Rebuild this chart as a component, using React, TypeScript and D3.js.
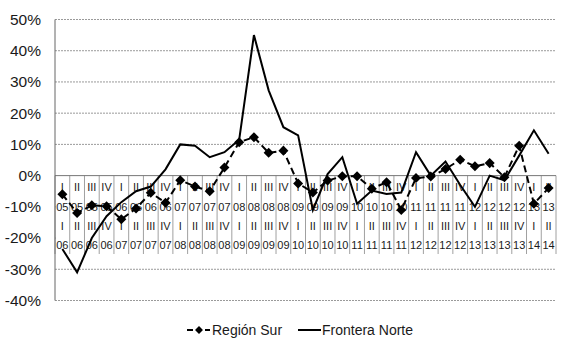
import { useEffect, useRef } from 'react';
import * as d3 from 'd3';

// quarter labels (top pair: quarter / year, bottom pair: quarter / following year)
const quarters = ['I', 'II', 'III', 'IV', 'I', 'II', 'III', 'IV', 'I', 'II', 'III', 'IV', 'I', 'II', 'III', 'IV',
    'I', 'II', 'III', 'IV', 'I', 'II', 'III', 'IV', 'I', 'II', 'III', 'IV', 'I', 'II', 'III', 'IV', 'I', 'II'];
const fromYears = ['05', '05', '05', '05', '06', '06', '06', '06', '07', '07', '07', '07', '08', '08', '08', '08',
    '09', '09', '09', '09', '10', '10', '10', '10', '11', '11', '11', '11', '12', '12', '12', '12', '13', '13'];
const toYears = ['06', '06', '06', '06', '07', '07', '07', '07', '08', '08', '08', '08', '09', '09', '09', '09',
    '10', '10', '10', '10', '11', '11', '11', '11', '12', '12', '12', '12', '13', '13', '13', '13', '14', '14'];

const regionSur = [-6, -12, -9.5, -9.8, -14, -10.5, -5.5, -8.7, -1.5, -3.5, -5, 2.6, 10.7, 12.3, 7.3, 8,
    -2.5, -5.4, -1.6, -0.2, -0.2, -4.2, -2.1, -11, -0.8, -0.3, 2.1, 5.1, 3, 4, -0.5, 9.6, -9, -4];
const fronteraNorte = [-23.5, -31, -20, -13, -8.5, -5, -3.5, 2, 10, 9.6, 5.9, 7.5, 11.5, 45, 27.3, 15.5,
    12.9, -11, 0.5, 5.9, -9, -4.8, -5.9, -5.4, 7.5, 0, 4.5, -3, -10, 0, -1.5, 6.4, 14.5, 7];

const yTicks = [-40, -30, -20, -10, 0, 10, 20, 30, 40, 50];

const FONT = '"Liberation Sans", Arial, sans-serif';

export default function App() {
    const ref = useRef<SVGSVGElement>(null);

    useEffect(() => {
        const svg = d3.select(ref.current);
        svg.selectAll('*').remove();

        const left = 55, right = 556, top = 19.5, bottom = 300.5;

        const x = d3.scaleBand<number>()
            .domain(d3.range(quarters.length))
            .range([left, right]);
        const y = d3.scaleLinear().domain([-40, 50]).range([bottom, top]);
        const cx = (i: number) => (x(i) as number) + x.bandwidth() / 2;

        // gridlines
        svg.append('g')
            .selectAll('line')
            .data(yTicks.filter(d => d !== 0))
            .join('line')
            .attr('x1', left).attr('x2', right)
            .attr('y1', d => y(d)).attr('y2', d => y(d))
            .attr('stroke', '#9a9a9a')
            .attr('stroke-width', 1)
            .attr('stroke-dasharray', '2,1');

        // category label area covers gridlines
        const labelTop = y(0), labelBottom = 254;
        svg.append('rect')
            .attr('x', left + 1).attr('y', labelTop)
            .attr('width', right - left).attr('height', labelBottom - labelTop)
            .attr('fill', '#fff');

        // separators
        svg.append('g')
            .selectAll('line')
            .data(d3.range(quarters.length + 1))
            .join('line')
            .attr('x1', i => left + i * x.bandwidth())
            .attr('x2', i => left + i * x.bandwidth())
            .attr('y1', labelTop).attr('y2', labelBottom)
            .attr('stroke', '#a0a0a0')
            .attr('stroke-width', 1);

        // zero line and y axis
        svg.append('line')
            .attr('x1', left).attr('x2', right)
            .attr('y1', y(0)).attr('y2', y(0))
            .attr('stroke', '#777').attr('stroke-width', 1);
        svg.append('line')
            .attr('x1', left).attr('x2', left)
            .attr('y1', top).attr('y2', bottom)
            .attr('stroke', '#666').attr('stroke-width', 1);

        // y tick labels
        svg.append('g')
            .selectAll('text')
            .data(yTicks)
            .join('text')
            .attr('x', 41)
            .attr('y', d => y(d))
            .attr('dy', '0.35em')
            .attr('text-anchor', 'end')
            .attr('font-family', FONT)
            .attr('font-size', 15.5)
            .attr('fill', '#1a1a1a')
            .text(d => `${d}%`);

        // category labels
        const rows: [string[], number][] = [[quarters, 187], [fromYears, 207], [quarters, 226], [toYears, 245]];
        rows.forEach(([labels, ry]) => {
            svg.append('g')
                .selectAll('text')
                .data(labels)
                .join('text')
                .attr('x', (d, i) => cx(i))
                .attr('y', ry)
                .attr('dy', '0.35em')
                .attr('text-anchor', 'middle')
                .attr('font-family', FONT)
                .attr('font-size', 11)
                .attr('fill', '#1a1a1a')
                .text(d => d);
        });

        const line = d3.line<number>()
            .x((d, i) => cx(i))
            .y(d => y(d));

        svg.append('path')
            .datum(fronteraNorte)
            .attr('d', line)
            .attr('fill', 'none')
            .attr('stroke', '#000')
            .attr('stroke-width', 2);

        svg.append('path')
            .datum(regionSur)
            .attr('d', line)
            .attr('fill', 'none')
            .attr('stroke', '#000')
            .attr('stroke-width', 2)
            .attr('stroke-dasharray', '7,4');

        const diamond = d3.symbol().type(d3.symbolDiamond2).size(64);
        svg.append('g')
            .selectAll('path')
            .data(regionSur)
            .join('path')
            .attr('d', diamond)
            .attr('transform', (d, i) => `translate(${cx(i)},${y(d)})`)
            .attr('fill', '#000');

        // legend
        const ly = 330;
        const lg = svg.append('g');
        lg.append('line')
            .attr('x1', 187).attr('x2', 210).attr('y1', ly).attr('y2', ly)
            .attr('stroke', '#000').attr('stroke-width', 2).attr('stroke-dasharray', '6,3');
        lg.append('path')
            .attr('d', d3.symbol().type(d3.symbolDiamond2).size(40))
            .attr('transform', `translate(199,${ly})`)
            .attr('fill', '#000');
        lg.append('text')
            .attr('x', 212).attr('y', ly).attr('dy', '0.35em')
            .attr('font-family', FONT).attr('font-size', 14).attr('fill', '#1a1a1a')
            .text('Región Sur');
        lg.append('line')
            .attr('x1', 298).attr('x2', 321).attr('y1', ly).attr('y2', ly)
            .attr('stroke', '#000').attr('stroke-width', 2);
        lg.append('text')
            .attr('x', 322).attr('y', ly).attr('dy', '0.35em')
            .attr('font-family', FONT).attr('font-size', 14).attr('fill', '#1a1a1a')
            .text('Frontera Norte');
    });

    return (
        <svg ref={ref} width={563} height={345}
            style={{ position: 'fixed', left: 0, top: 0, background: '#fff' }} />
    );
}
